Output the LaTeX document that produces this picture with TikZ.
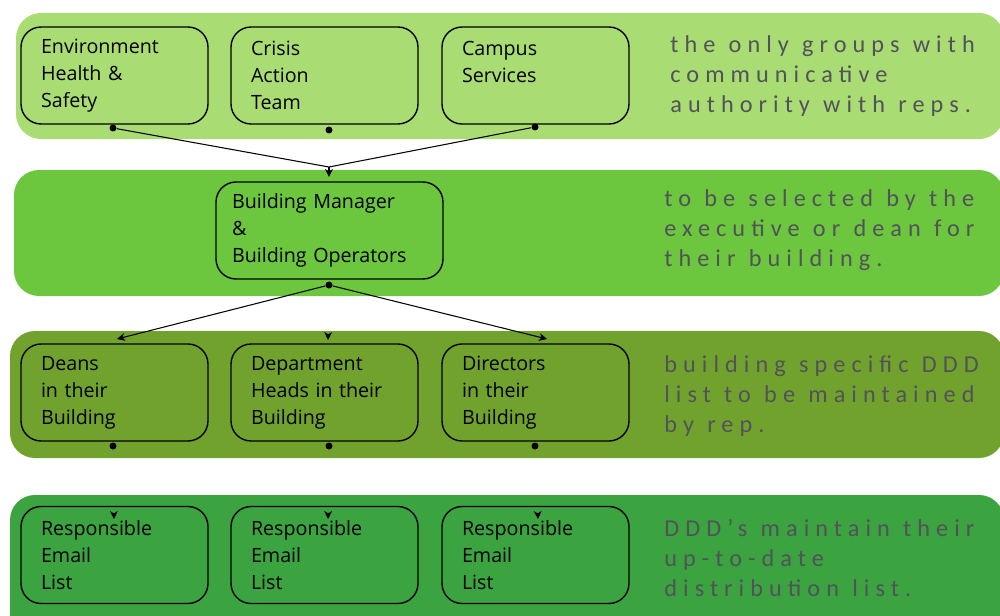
\documentclass[tikz,border=0pt]{standalone}
\usepackage{fontspec}
\setmainfont{Open Sans}
\newfontfamily\notefont[LetterSpace=25, WordSpace=1.15]{Carlito}
\usetikzlibrary{arrows.meta}

\definecolor{bandA}{RGB}{170,220,116}
\definecolor{bandB}{RGB}{108,198,62}
\definecolor{bandC}{RGB}{114,162,46}
\definecolor{bandD}{RGB}{59,163,63}
\definecolor{notegray}{RGB}{82,82,90}

\tikzset{
  unit/.style={draw, line width=0.8pt, rounded corners=0.4cm, text width=2.94cm,
    inner xsep=0.4cm, minimum height=1.94cm, align=left,
    font=\fontsize{11.2}{15.4}\selectfont},
  note/.style={anchor=north west, align=left, inner sep=0pt, text=notegray,
    font=\notefont\fontsize{13.8}{17.1}\selectfont},
  dot/.style={circle, fill, inner sep=0pt, minimum size=0.14cm},
  link/.style={line width=0.6pt, -{Stealth[length=4.5pt,width=4.4pt,inset=1.3pt]}},
}

\begin{document}
\begin{tikzpicture}[x=0.02cm, y=-0.02cm]
  \clip (0,0) rectangle (1000,615);
  % the four bands
  \fill[bandA, rounded corners=0.5cm] (16,13) rectangle (1004,139);
  \fill[bandB, rounded corners=0.5cm] (14,170) rectangle (1004,296);
  \fill[bandC, rounded corners=0.5cm] (10,331) rectangle (1004,458);
  \fill[bandD, rounded corners=0.5cm] (10,495) rectangle (1004,640);

  % top row
  \node[unit] (ehs) at (114.5,75.5) {Environment\\Health \&\\Safety};
  \node[unit] (crisis) at (324.5,75.5) {Crisis\\Action\\Team};
  \node[unit] (campus) at (535.5,75.5) {Campus\\Services\\~};
  \node[note] (noteA) at (670,35) {the only groups with\\communicative\\authority with reps.};

  % building
  \node[unit, text width=3.9cm, inner xsep=0.32cm] (bm) at (329.5,230.5)
    {Building Manager\\\&\\Building Operators};
  \node[note] (noteB) at (664,189) {to be selected by the\\executive or dean for\\their building.};

  % ddd row
  \node[unit] (deans) at (114.5,392.5) {Deans\\in their\\Building};
  \node[unit] (heads) at (324.5,392.5) {Department\\Heads in their\\Building};
  \node[unit] (dirs) at (535.5,392.5) {Directors\\in their\\Building};
  \node[note] (noteC) at (664,355) {building specific DDD\\list to be maintained\\by rep.};

  % lists
  \node[unit] (listA) at (114.5,555) {Responsible\\Email\\List};
  \node[unit] (listB) at (324.5,555) {Responsible\\Email\\List};
  \node[unit] (listC) at (535.5,555) {Responsible\\Email\\List};
  \node[note] (noteD) at (664,519) {DDD’s maintain their\\up-to-date\\distribution list.};

  % dots and ends
  \node[dot] (ehsDot) at (113,128) {};
  \node[dot] (crisisDot) at (329,130) {};
  \node[dot] (campusDot) at (535,127) {};
  \coordinate (meet) at (329,167);
  \coordinate (bmTip) at (329,177);
  \node[dot] (bmDot) at (329,285) {};
  \coordinate (deansTip) at (117,339);
  \coordinate (headsTip) at (328,340);
  \coordinate (dirsTip) at (547,339);
  \node[dot] (deansDot) at (113,446) {};
  \node[dot] (headsDot) at (329,446) {};
  \node[dot] (dirsDot) at (535,446) {};
  \coordinate (listATip) at (114,519);
  \coordinate (listBTip) at (328,519);
  \coordinate (listCTip) at (538,519);

  \draw[line width=0.6pt] (ehsDot) -- (meet) -- (campusDot);
  \draw[link] (meet) -- (bmTip);
  \draw[link] (bmDot) -- (deansTip);
  \draw[link, shorten <=0.94cm] (bmDot) -- (headsTip);
  \draw[link] (bmDot) -- (dirsTip);
  \draw[link, shorten <=1.3cm] (deansDot) -- (listATip);
  \draw[link, shorten <=1.3cm] (headsDot) -- (listBTip);
  \draw[link, shorten <=1.3cm] (dirsDot) -- (listCTip);
\end{tikzpicture}
\end{document}
